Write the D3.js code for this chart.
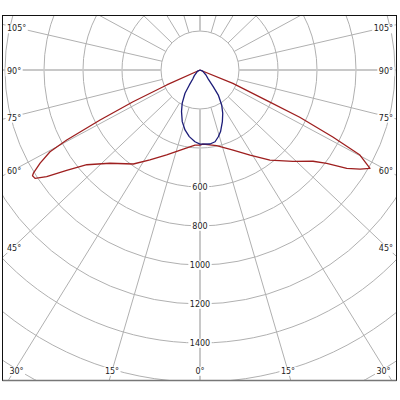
<!DOCTYPE html>
<html><head><meta charset="utf-8">
<script src="https://cdn.jsdelivr.net/npm/d3@7"></script>
<style>body{margin:0;background:#fff}svg{display:block}</style>
</head><body>
<svg id="c" width="400" height="400"></svg>
<script>
// ---- data ----
const radialTicks = [200,400,600,800,1000,1200,1400,1600,1800,2000,2200];
const radialLabels = [600,800,1000,1200,1400];
const angleTicks = [0,15,30,45,60,75,90,105,120,135,150,165,180];
const angleDrawn = [0,16.3,31.7,46.5,61.8,76,90,103,118.5,134,148.7,163.5,180];
const angleLabelTicks = [0,15,30,45,60,75,90,105];

const redLeftAngles  = [0, 3.5, 11, 20, 27.5, 33.7, 42.5, 48.5, 51.4, 53.5, 55, 56, 56.5, 58, 59.6, 60.5, 61.7, 63, 64.2, 66, 90];
const redLeftValues  = [385, 386, 415, 468, 528, 591, 665, 757, 856, 958, 1012, 1016, 1005, 949, 876, 772, 573, 380, 187, 0, 0];
const redRightAngles = [0, 2.1, 11.4, 21, 28.8, 36.2, 44, 49.5, 52, 54.5, 56.5, 58.2, 60.2, 61.5, 63, 63.8, 66.3, 68, 90];
const redRightValues = [385, 380, 397, 444, 506, 585, 668, 745, 807, 906, 966, 1007, 929, 763, 566, 375, 182, 0, 0];

const blueLeftAngles  = [0, 3.7, 8.4, 12.9, 17.6, 22.5, 26.6, 31.1, 33.8, 37.3, 43.5, 60, 90];
const blueLeftValues  = [380, 369, 346, 317, 280, 233, 193, 142, 94, 59, 41, 15, 0];
const blueRightAngles = [0, 7.1, 10.9, 14.1, 17.1, 21.9, 26.1, 30.1, 34.5, 36.8, 41, 48.4, 65, 90];
const blueRightValues = [380, 383, 376, 355, 333, 289, 251, 211, 159, 109, 63, 40, 15, 0];

// ---- layout ----
const cx = 200, cy = 70;
const frame = {x0: 2.5, y0: 15.5, x1: 396.5, y1: 380.5};
const rScale = d3.scaleLinear().domain([0, 2000]).range([0, 390]);
const aScale = d3.scaleLinear().domain(angleTicks).range(angleDrawn);
const rad = d => d * Math.PI / 180;

const svg = d3.select('#c');
svg.append('defs').append('clipPath').attr('id', 'clip')
  .append('rect').attr('x', frame.x0).attr('y', frame.y0)
  .attr('width', frame.x1 - frame.x0).attr('height', frame.y1 - frame.y0);

const grid = svg.append('g').attr('clip-path', 'url(#clip)')
  .append('g').attr('transform', `translate(${cx},${cy})`);

// circles
grid.selectAll('circle').data(radialTicks).join('circle')
  .attr('r', d => rScale(d)).attr('fill', 'none')
  .attr('stroke', '#b0b0b0').attr('stroke-width', 1);

// radial lines (side -1 left, +1 right)
const spokes = [];
angleTicks.forEach(t => {
  [-1, 1].forEach(s => {
    if ((t === 0 || t === 180) && s === 1) return;
    spokes.push({t, s});
  });
});
const major = t => t === 0 || t === 90 || t === 180;
grid.selectAll('line').data(spokes).join('line')
  .attr('x1', d => d.s * rScale(200) * Math.sin(rad(aScale(d.t))))
  .attr('y1', d => rScale(200) * Math.cos(rad(aScale(d.t))))
  .attr('x2', d => d.s * rScale(2400) * Math.sin(rad(aScale(d.t))))
  .attr('y2', d => rScale(2400) * Math.cos(rad(aScale(d.t))))
  .attr('stroke', d => major(d.t) ? '#c8c8c8' : '#b0b0b0')
  .attr('stroke-width', d => major(d.t) ? 2 : 1);

// ---- curves ----
function buildSeries(la, lv, ra, rv) {
  const pts = [];
  for (let i = la.length - 1; i >= 0; i--) pts.push({s: -1, a: la[i], v: lv[i]});
  for (let i = 0; i < ra.length; i++) pts.push({s: 1, a: ra[i], v: rv[i]});
  return pts;
}
const radialLine = d3.lineRadial()
  .angle(d => Math.PI - d.s * rad(aScale(d.a)))
  .radius(d => rScale(d.v))
  .curve(d3.curveLinear);

const curves = svg.append('g').attr('transform', `translate(${cx},${cy})`);
curves.append('path')
  .attr('d', radialLine(buildSeries(redLeftAngles, redLeftValues, redRightAngles, redRightValues)))
  .attr('fill', 'none').attr('stroke', '#9e1f1f').attr('stroke-width', 1.3)
  .attr('stroke-linejoin', 'round');
curves.append('path')
  .attr('d', radialLine(buildSeries(blueLeftAngles, blueLeftValues, blueRightAngles, blueRightValues)))
  .attr('fill', 'none').attr('stroke', '#1c1c78').attr('stroke-width', 1.3)
  .attr('stroke-linejoin', 'round');

// ---- labels ----
const labels = svg.append('g').attr('font-family', '"DejaVu Sans", Verdana, sans-serif')
  .attr('font-size', 8).attr('fill', '#222');

function addLabel(x, y, txt, anchor) {
  const g = labels.append('g');
  const bg = g.append('rect').attr('fill', '#fff');
  const t = g.append('text').attr('x', x).attr('y', y).attr('dy', '0.35em')
    .attr('text-anchor', anchor).text(txt);
  const b = t.node().getBBox();
  bg.attr('x', b.x - 1.5).attr('y', b.y).attr('width', b.width + 3).attr('height', b.height);
}

radialLabels.forEach(v => addLabel(cx, cy + rScale(v), v, 'middle'));

const bottomY = 371, sideInset = 186;
angleLabelTicks.forEach(t => {
  [-1, 1].forEach(s => {
    if (t === 0 && s === 1) return;
    const a = rad(aScale(t));
    const sinA = Math.sin(a), cosA = Math.cos(a);
    const tb = cosA > 1e-6 ? (bottomY - cy) / cosA : Infinity;
    const ts = sinA > 1e-6 ? sideInset / sinA : Infinity;
    const txt = t + '°';
    if (tb <= ts) {
      let x = cx + s * tb * sinA;
      x = Math.max(16.5, Math.min(383.5, x));
      addLabel(x, bottomY, txt, 'middle');
    } else {
      const y = cy + ts * cosA + 1.5;
      addLabel(s < 0 ? 7 : 393, y, txt, s < 0 ? 'start' : 'end');
    }
  });
});

// ---- frame ----
svg.append('rect').attr('x', frame.x0).attr('y', frame.y0)
  .attr('width', frame.x1 - frame.x0).attr('height', frame.y1 - frame.y0)
  .attr('fill', 'none').attr('stroke', '#111').attr('stroke-width', 1);
svg.append('line').attr('x1', frame.x0).attr('x2', frame.x1)
  .attr('y1', frame.y1).attr('y2', frame.y1)
  .attr('stroke', '#777').attr('stroke-width', 1.6);
</script>
</body></html>
